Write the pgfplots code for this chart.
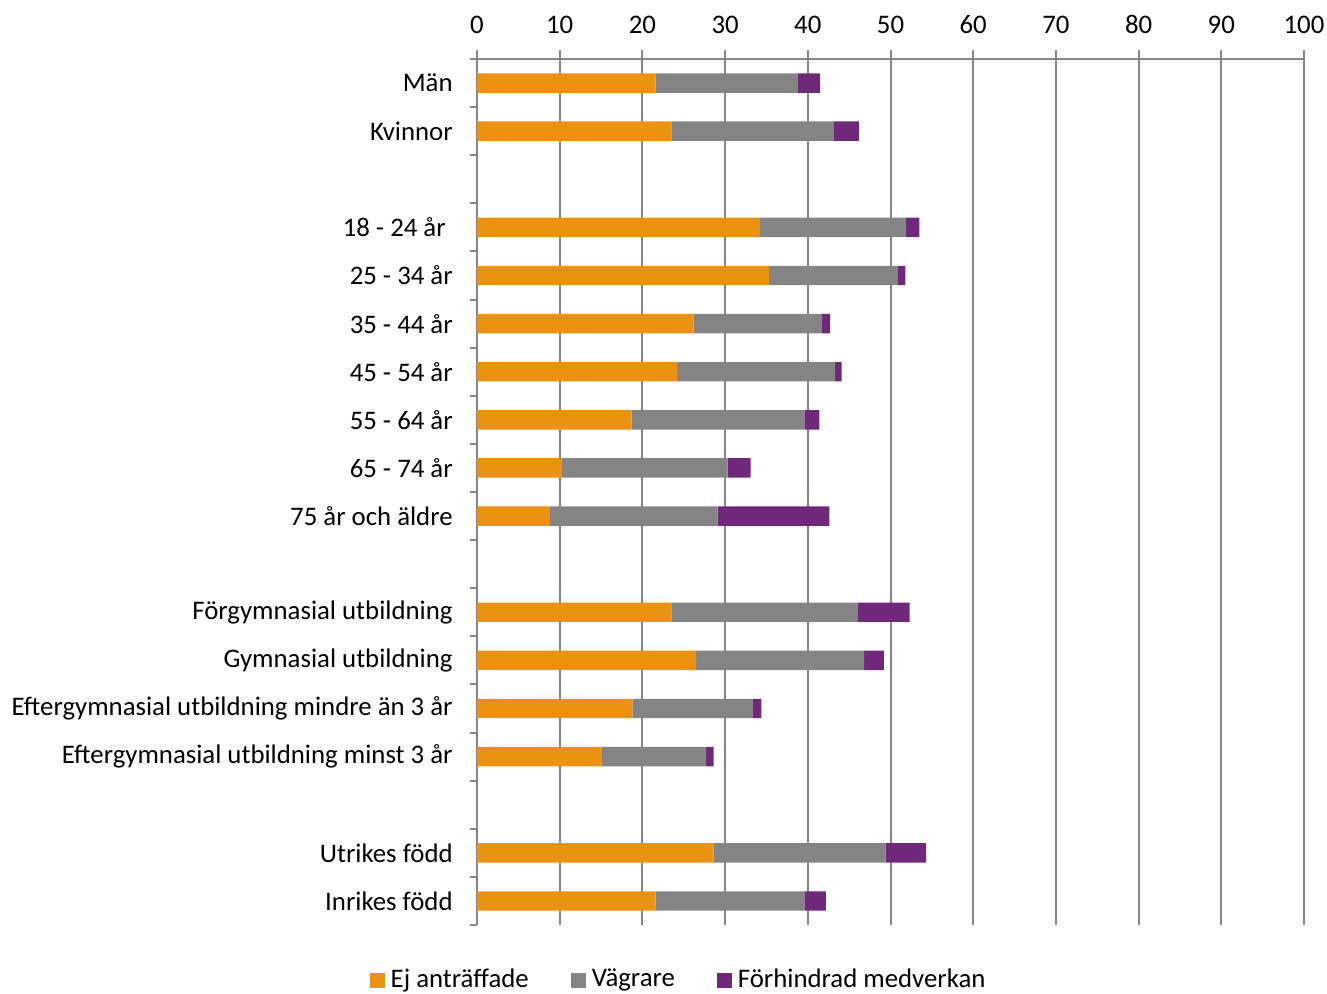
\documentclass[border=0pt]{standalone}
\usepackage{pgfplots}
\pgfplotsset{compat=1.18}
\usepackage{fontspec}
\setmainfont{Carlito}
\definecolor{cOr}{RGB}{236,146,18}
\definecolor{cGr}{RGB}{132,132,132}
\definecolor{cPu}{RGB}{112,40,122}
\definecolor{cAx}{RGB}{134,134,134}
\begin{document}
\fontsize{13.4}{16}\selectfont
\begin{tikzpicture}
\begin{axis}[
 xbar stacked, bar width=9.7pt,
 scale only axis, width=413.5pt, height=433pt,
 xmin=0, xmax=100, ymin=-0.5, ymax=17.5, y dir=reverse,
 axis x line*=top, axis y line*=left,
 axis line style={cAx, line width=1pt},
 xtick={0,10,...,100},
 xmajorgrids, grid style={cAx, line width=1pt},
 tick style={cAx, line width=1pt},
 tick align=outside, major tick length=4.5pt, minor tick length=3.5pt,
 major y tick style={draw=none},
 ytick={0,1,3,4,5,6,7,8,9,11,12,13,14,16,17},
 yticklabels={Män, Kvinnor, {18 - 24 år\kern3.5pt\null}, 25 - 34 år, 35 - 44 år, 45 - 54 år, 55 - 64 år, 65 - 74 år, 75 år och äldre, Förgymnasial utbildning, Gymnasial utbildning, Eftergymnasial utbildning mindre än 3 år, Eftergymnasial utbildning minst 3 år, Utrikes född, Inrikes född},
 minor ytick={-0.5,0.5,...,17.5},
 yticklabel style={xshift=-3pt, font=\fontsize{13.4}{16}\selectfont},
 xticklabel style={yshift=3.5pt, font=\fontsize{13.4}{16}\selectfont},
 /pgf/number format/assume math mode=true,
 legend columns=3,
 legend style={draw=none, at={(axis description cs:0.245,-0.0635)}, anchor=center, font=\fontsize{13.4}{16}\selectfont,
   /tikz/every even column/.append style={column sep=19pt},
   /tikz/every odd column/.append style={column sep=1pt}},
 legend image code/.code={\fill[#1] (0pt,-3.75pt) rectangle (7.5pt,3.75pt);},
 every axis plot/.append style={draw=none},
]
\addplot[fill=cOr] coordinates {(21.6,0) (23.5,1) (0,2) (34.2,3) (35.3,4) (26.2,5) (24.2,6) (18.7,7) (10.3,8) (8.8,9) (0,10) (23.5,11) (26.5,12) (18.8,13) (15.1,14) (0,15) (28.6,16) (21.6,17)};
\addplot[fill=cGr] coordinates {(17.2,0) (19.6,1) (0,2) (17.7,3) (15.6,4) (15.5,5) (19.1,6) (20.9,7) (20.0,8) (20.3,9) (0,10) (22.5,11) (20.3,12) (14.5,13) (12.6,14) (0,15) (20.8,16) (18.0,17)};
\addplot[fill=cPu] coordinates {(2.7,0) (3.1,1) (0,2) (1.6,3) (0.9,4) (1.0,5) (0.8,6) (1.8,7) (2.8,8) (13.5,9) (0,10) (6.3,11) (2.4,12) (1.1,13) (0.9,14) (0,15) (4.9,16) (2.6,17)};
\legend{Ej anträffade, Vägrare, Förhindrad medverkan}
\coordinate (SW) at (axis description cs:0,0);
\coordinate (NE) at (axis description cs:1,1);
\end{axis}
\pgfresetboundingbox
\path[use as bounding box] ([shift={(-238.5pt,-34.5pt)}]SW) rectangle ([shift={(11.5pt,29.5pt)}]NE);
\end{tikzpicture}
\end{document}
